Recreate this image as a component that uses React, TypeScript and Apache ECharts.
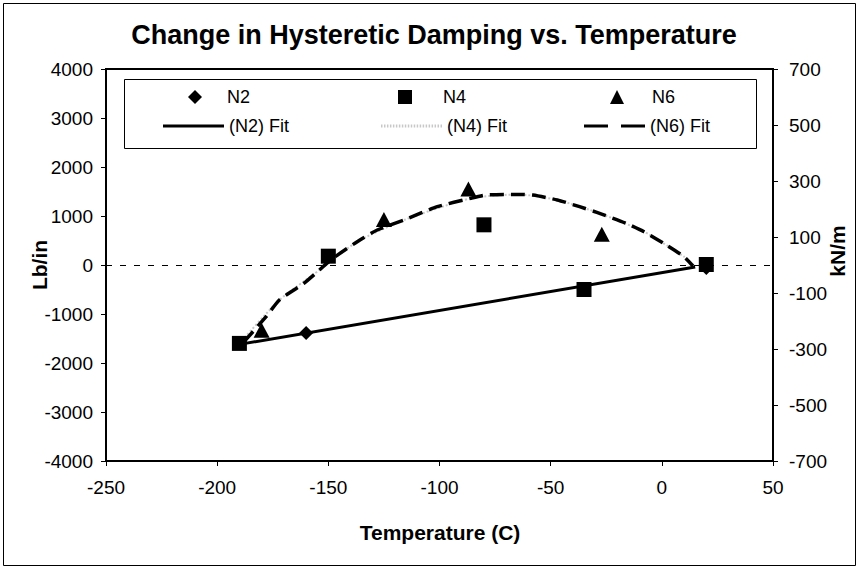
import React, { useEffect, useRef } from "react";
import * as echarts from "echarts";

const FONT = "'Liberation Sans', Arial, Helvetica, sans-serif";

// Scatter data (Temperature C, Lb/in)
const N2_T = [-160, 20];
const N2_V = [-1390, -60];
const N4_T = [-190, -150, -80, -35, 20];
const N4_V = [-1600, 180, 820, -500, 10];
const N6_T = [-180, -125, -87, -27];
const N6_V = [-1330, 930, 1550, 630];

// Fit lines
const N2_FIT_T = [-190, 15];
const N2_FIT_V = [-1620, -40];
const N4_FIT_T = [-190, -172, -154, -137, -116, -86, -64, -47, -28, -8, 10, 15];
const N4_FIT_V = [-1600, -714, -102, 476, 918, 1361, 1440, 1327, 1055, 680, 170, -40];
const N6_FIT_T = [-188, -178, -172, -161, -154, -149, -137, -128, -116, -101, -86, -79, -64, -58, -47, -37, -28, -16, -8, 2, 10, 14];
const N6_FIT_V = [-1570, -1055, -714, -374, -102, 102, 476, 714, 918, 1190, 1361, 1428, 1440, 1428, 1327, 1190, 1055, 850, 680, 408, 170, -20];

// Axis settings
const X_MIN = -250, X_MAX = 50, X_STEP = 50;
const Y_MIN = -4000, Y_MAX = 4000, Y_STEP = 1000;
const Y2_OFFSET = 700, Y2_SPAN = 1400, Y2_STEP = 200; // kN/m labels -700..700

const zip = (a: number[], b: number[]) => a.map((v, i) => [v, b[i]]);

// legend line icons
const SOLID_ICON = "path://M0,0H61V3H0Z";
const DASH_ICON = "path://M0,0H24V3H0ZM37,0H61V3H37Z";
const DOT_ICON = (() => {
  let d = "path://";
  for (let x = 0; x < 61; x += 3) d += `M${x},0H${x + 1.5}V3H${x}Z`;
  return d;
})();

export default function App() {
  const ref = useRef<HTMLDivElement>(null);
  useEffect(() => {
    if (!ref.current) return;
    const chart = echarts.init(ref.current, undefined, { renderer: "svg" });
    const axisLine = { show: true, onZero: false, lineStyle: { color: "#000", width: 2 } };
    const axisTick = { show: true, length: 5, lineStyle: { color: "#000", width: 1 } };
    const labelStyle = { color: "#000", fontSize: 19, fontFamily: FONT, formatter: (v: number) => String(v) };
    const textStyle = { color: "#000", fontSize: 18, fontFamily: FONT };
    const markerLegend = (name: string, icon: string, left: number, pad: number) => ({
      data: [{ name, icon }],
      left, top: 88, padding: 0, itemWidth: 14, itemHeight: 14, selectedMode: false,
      textStyle: { ...textStyle, padding: [0, 0, 0, pad] },
    });
    const lineLegend = (name: string, icon: string, left: number) => ({
      data: [{ name, icon }],
      left, top: 117, padding: 0, itemWidth: 61, itemHeight: 3, selectedMode: false,
      textStyle,
    });
    const option: any = {
      animation: false,
      textStyle: { fontFamily: FONT },
      grid: { left: 106, right: 88, top: 69, bottom: 110, show: true, borderColor: "#000", borderWidth: 2, backgroundColor: "transparent" },
      xAxis: {
        type: "value", min: X_MIN, max: X_MAX, interval: X_STEP,
        axisLine, axisTick,
        axisLabel: { ...labelStyle, margin: 17 },
        splitLine: { show: false },
      },
      yAxis: [
        {
          type: "value", min: Y_MIN, max: Y_MAX, interval: Y_STEP, position: "left",
          axisLine, axisTick,
          axisLabel: { ...labelStyle, margin: 13 },
          splitLine: { show: false },
        },
        {
          type: "value", min: 0, max: Y2_SPAN, interval: Y2_STEP, position: "right",
          axisLine, axisTick,
          axisLabel: { ...labelStyle, margin: 16, formatter: (v: number) => String(v - Y2_OFFSET) },
          splitLine: { show: false },
        },
      ],
      legend: [
        markerLegend("N2", "diamond", 188, 20),
        markerLegend("N4", "rect", 398, 26),
        markerLegend("N6", "triangle", 610, 23),
        lineLegend("(N2) Fit", SOLID_ICON, 163),
        lineLegend("(N4) Fit", DOT_ICON, 381),
        lineLegend("(N6) Fit", DASH_ICON, 584),
      ],
      graphic: [
        { type: "rect", z: 0, shape: { x: 3.5, y: 3.5, width: 852, height: 562 }, style: { fill: "none", stroke: "#000", lineWidth: 1 } },
        { type: "rect", z: 1, shape: { x: 124.5, y: 79.5, width: 632, height: 69 }, style: { fill: "#fff", stroke: "#000", lineWidth: 1 } },
        { type: "text", x: 434, y: 35, style: { text: "Change in Hysteretic Damping vs. Temperature", fill: "#000", font: `bold 27px ${FONT}`, align: "center", verticalAlign: "middle" } },
        { type: "text", x: 39, y: 265, rotation: Math.PI / 2, style: { text: "Lb/in", fill: "#000", font: `bold 21px ${FONT}`, align: "center", verticalAlign: "middle" } },
        { type: "text", x: 837, y: 251, rotation: Math.PI / 2, style: { text: "kN/m", fill: "#000", font: `bold 21px ${FONT}`, align: "center", verticalAlign: "middle" } },
        { type: "text", x: 440, y: 532, style: { text: "Temperature (C)", fill: "#000", font: `bold 21px ${FONT}`, align: "center", verticalAlign: "middle" } },
      ],
      series: [
        {
          name: "(N4) Fit", type: "line", z: 1, symbol: "none", smooth: 0.2,
          data: zip(N4_FIT_T, N4_FIT_V),
          lineStyle: { color: "#c8c8c8", width: 2, type: "dotted" },
          itemStyle: { color: "#c8c8c8" },
        },
        {
          name: "(N2) Fit", type: "line", z: 2, symbol: "none",
          data: zip(N2_FIT_T, N2_FIT_V),
          lineStyle: { color: "#000", width: 3 },
          itemStyle: { color: "#000" },
          markLine: {
            silent: true, symbol: "none", label: { show: false },
            lineStyle: { color: "#000", width: 1, type: [6, 8] },
            data: [{ yAxis: 0 }],
          },
        },
        {
          name: "(N6) Fit", type: "line", z: 3, symbol: "none", smooth: 0.2,
          data: zip(N6_FIT_T, N6_FIT_V),
          lineStyle: { color: "#000", width: 3.5, type: [14, 7] },
          itemStyle: { color: "#000" },
        },
        { name: "N2", type: "scatter", z: 4, symbol: "diamond", symbolSize: 14, data: zip(N2_T, N2_V), itemStyle: { color: "#000", opacity: 1 } },
        { name: "N4", type: "scatter", z: 5, symbol: "rect", symbolSize: 15, data: zip(N4_T, N4_V), itemStyle: { color: "#000", opacity: 1 } },
        { name: "N6", type: "scatter", z: 6, symbol: "triangle", symbolSize: [16, 15], data: zip(N6_T, N6_V), itemStyle: { color: "#000", opacity: 1 } },
      ],
    };
    chart.setOption(option);
    return () => chart.dispose();
  }, []);
  return (
    <div
      ref={ref}
      style={{ position: "fixed", left: 0, top: 0, width: 861, height: 571, background: "#fff" }}
    />
  );
}
